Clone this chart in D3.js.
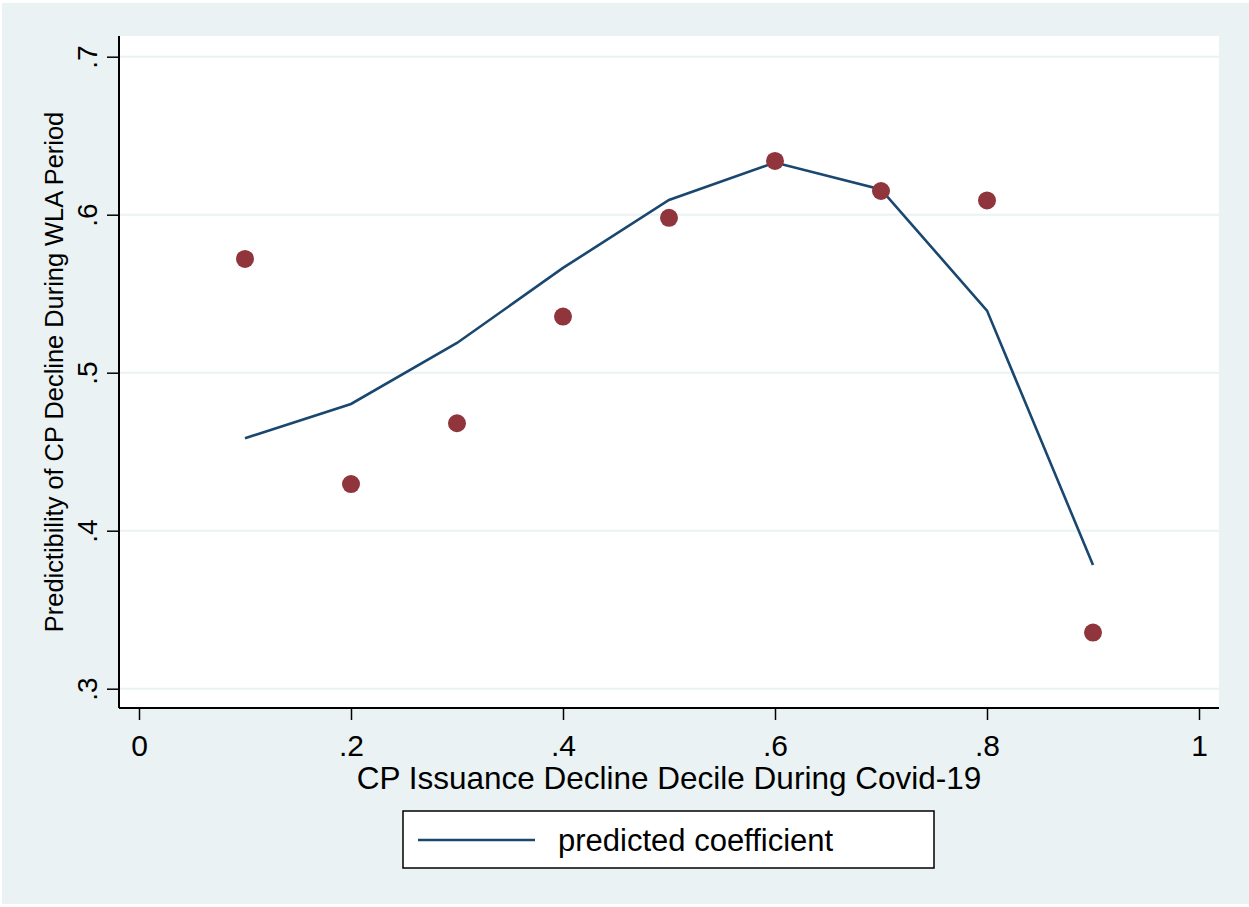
<!DOCTYPE html>
<html lang="en">
<head>
<meta charset="UTF-8">
<title>Predictibility of CP Decline</title>
<script src="https://d3js.org/d3.v7.min.js"></script>
<style>
    body { margin: 0; background: #ffffff; }
    text { font-family: "Liberation Sans", Arial, sans-serif; fill: #000; }
</style>
</head>
<body>
<div id="chart"></div>
<script>
// deciles on the x axis
const deciles = [0.1, 0.2, 0.3, 0.4, 0.5, 0.6, 0.7, 0.8, 0.9];
// observed values (dots)
const observed = [0.572, 0.4295, 0.468, 0.5355, 0.598, 0.634, 0.615, 0.609, 0.3355];
// predicted coefficient (line)
const predicted = [0.4585, 0.4802, 0.5188, 0.5663, 0.6093, 0.633, 0.616, 0.5393, 0.3783];
const xTicks = [0, 0.2, 0.4, 0.6, 0.8, 1];
const yTicks = [0.3, 0.4, 0.5, 0.6, 0.7];

const W = 1249, H = 907;
const plot = { left: 119, right: 1219, top: 36, bottom: 708 };

const fmt = v => v === 0 ? "0" : v === 1 ? "1" : String(v).replace(/^0/, "");

const svg = d3.select("#chart").append("svg")
    .attr("width", W)
    .attr("height", H);

// outer background
svg.append("rect")
    .attr("x", 2).attr("y", 3)
    .attr("width", W - 2).attr("height", H - 6)
    .attr("fill", "#eaf2f3");

// plot region
svg.append("rect")
    .attr("x", plot.left).attr("y", plot.top)
    .attr("width", plot.right - plot.left).attr("height", plot.bottom - plot.top)
    .attr("fill", "#ffffff");

const x = d3.scaleLinear().domain([0, 1]).range([139, 1199]);
const y = d3.scaleLinear().domain([0.3, 0.7]).range([688.7, 56.7]);

// gridlines
svg.append("g")
    .selectAll("line")
    .data(yTicks)
    .join("line")
    .attr("x1", plot.left).attr("x2", plot.right)
    .attr("y1", d => y(d)).attr("y2", d => y(d))
    .attr("stroke", "#eaf2f3")
    .attr("stroke-width", 2);

// y axis
const yAxis = svg.append("g")
    .attr("transform", `translate(${plot.left},0)`)
    .call(d3.axisLeft(y).tickValues(yTicks).tickSize(12).tickFormat(fmt));
yAxis.select(".domain").attr("d", `M0,${plot.top}V${plot.bottom}`)
    .attr("stroke", "#000").attr("stroke-width", 2);
yAxis.selectAll(".tick line").attr("stroke", "#000").attr("stroke-width", 1.5);
yAxis.selectAll(".tick text")
    .attr("x", null).attr("dy", null)
    .attr("transform", "translate(-22,0) rotate(-90)")
    .attr("text-anchor", "middle")
    .style("font-size", "28px")
    .style("font-family", "'Liberation Sans', Arial, sans-serif");

// x axis
const xAxis = svg.append("g")
    .attr("transform", `translate(0,${plot.bottom})`)
    .call(d3.axisBottom(x).tickValues(xTicks).tickSize(12).tickFormat(fmt));
xAxis.select(".domain").attr("d", `M${plot.left},0H${plot.right}`)
    .attr("stroke", "#000").attr("stroke-width", 2);
xAxis.selectAll(".tick line").attr("stroke", "#000").attr("stroke-width", 1.5);
xAxis.selectAll(".tick text")
    .attr("y", 48).attr("dy", null)
    .style("font-size", "30px")
    .style("font-family", "'Liberation Sans', Arial, sans-serif");

// predicted line
const rows = deciles.map((d, i) => ({ x: d, obs: observed[i], pred: predicted[i] }));
svg.append("path")
    .datum(rows)
    .attr("fill", "none")
    .attr("stroke", "#1a476f")
    .attr("stroke-width", 2.6)
    .attr("d", d3.line().x(d => x(d.x)).y(d => y(d.pred)));

// observed dots
svg.append("g")
    .selectAll("circle")
    .data(rows)
    .join("circle")
    .attr("cx", d => x(d.x))
    .attr("cy", d => y(d.obs))
    .attr("r", 9)
    .attr("fill", "#90353b");

// axis titles
svg.append("text")
    .attr("x", (plot.left + plot.right) / 2)
    .attr("y", 789)
    .attr("text-anchor", "middle")
    .style("font-size", "31.5px")
    .text("CP Issuance Decline Decile During Covid-19");

svg.append("text")
    .attr("transform", `translate(63,${(plot.top + plot.bottom) / 2}) rotate(-90)`)
    .attr("text-anchor", "middle")
    .style("font-size", "25.4px")
    .text("Predictibility of CP Decline During WLA Period");

// legend
const legend = svg.append("g");
legend.append("rect")
    .attr("x", 403).attr("y", 811)
    .attr("width", 531).attr("height", 57)
    .attr("fill", "#ffffff")
    .attr("stroke", "#000")
    .attr("stroke-width", 1.5);
legend.append("line")
    .attr("x1", 418).attr("x2", 535)
    .attr("y1", 840).attr("y2", 840)
    .attr("stroke", "#1a476f")
    .attr("stroke-width", 2.6);
legend.append("text")
    .attr("x", 558).attr("y", 851)
    .style("font-size", "31px")
    .text("predicted coefficient");
</script>
</body>
</html>
